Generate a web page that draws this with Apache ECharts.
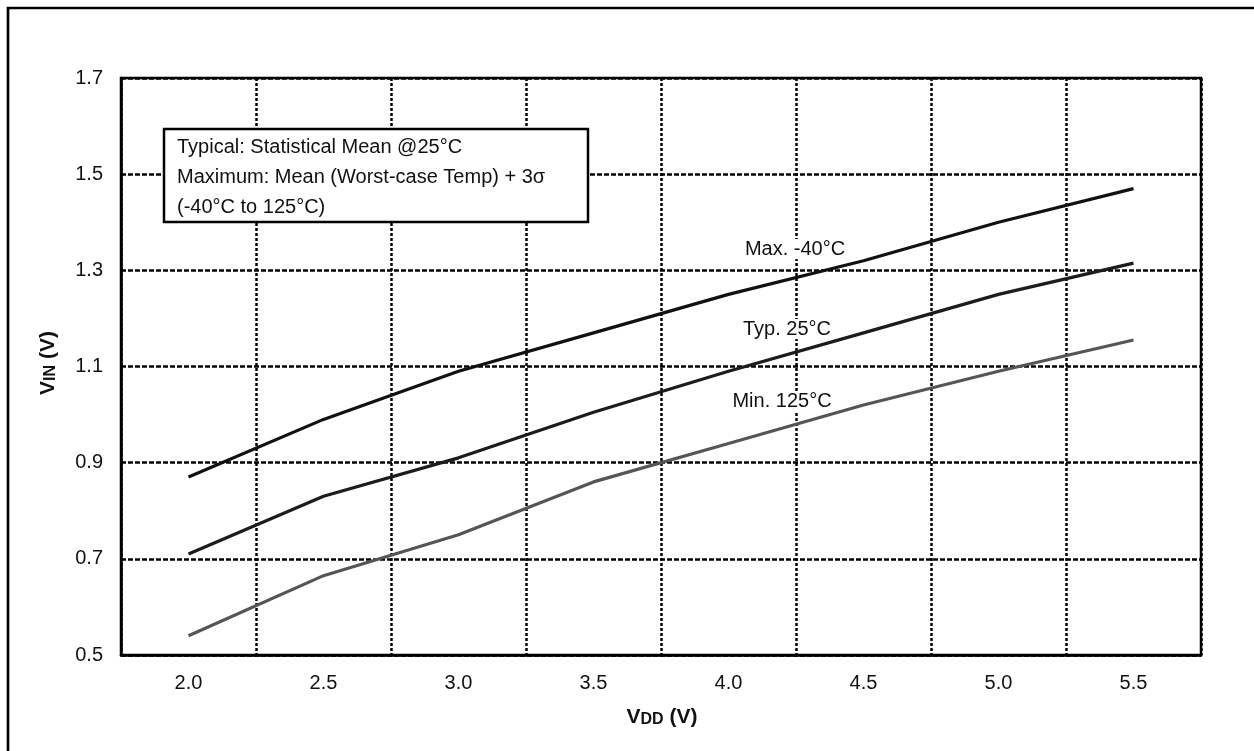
<!DOCTYPE html>
<html>
<head>
<meta charset="utf-8">
<script src="https://cdn.jsdelivr.net/npm/echarts@6/dist/echarts.min.js"></script>
<style>
html,body{margin:0;padding:0;background:#fff;}
#chart{width:1254px;height:751px;}
</style>
</head>
<body>
<div id="chart"></div>
<script>
var categories = ['2.0','2.5','3.0','3.5','4.0','4.5','5.0','5.5'];
var maxValues = [0.87, 0.99, 1.09, 1.17, 1.25, 1.32, 1.40, 1.47];
var typValues = [0.71, 0.83, 0.91, 1.005, 1.09, 1.17, 1.25, 1.315];
var minValues = [0.54, 0.665, 0.75, 0.86, 0.94, 1.02, 1.09, 1.155];
var seriesNames = ['Max. -40°C', 'Typ. 25°C', 'Min. 125°C'];
var noteLines = ['Typical: Statistical Mean @25°C', 'Maximum: Mean (Worst-case Temp) + 3σ', '(-40°C to 125°C)'];

var FONT = '"Liberation Sans", Arial, Helvetica, sans-serif';
var chart = echarts.init(document.getElementById('chart'), null, {renderer: 'canvas'});

function lineSeries(name, data, color) {
  return {
    name: name, type: 'line', data: data, symbol: 'none',
    lineStyle: {color: color, width: 3.2}, z: 5
  };
}
function seriesLabel(text, x, y) {
  return {type: 'text', z: 51, style: {x: x, y: y, text: text, font: '20px ' + FONT, fill: '#111',
    textAlign: 'center', textVerticalAlign: 'middle', backgroundColor: '#fff', padding: [0, 1]}};
}

chart.setOption({
  animation: false,
  backgroundColor: '#fff',
  grid: {left: 121, right: 53, top: 78, bottom: 96, show: true, borderColor: '#000', borderWidth: 2.5, backgroundColor: 'transparent', z: 10},
  xAxis: {
    type: 'category', data: categories, boundaryGap: true,
    axisLine: {show: true, lineStyle: {color: '#000', width: 2.5}},
    axisTick: {show: false},
    axisLabel: {color: '#111', fontSize: 20, fontFamily: FONT, margin: 18, interval: 0},
    splitLine: {show: true, interval: 0, lineStyle: {color: '#000', width: 2.5, type: [3, 2]}}
  },
  yAxis: {
    type: 'value', min: 0.5, max: 1.7, interval: 0.2,
    axisLine: {show: true, lineStyle: {color: '#000', width: 2.5}},
    axisTick: {show: false},
    axisLabel: {color: '#111', fontSize: 20, fontFamily: FONT, margin: 18, formatter: function (v) { return v.toFixed(1); }},
    splitLine: {show: true, lineStyle: {color: '#000', width: 2.5, type: [5, 2]}}
  },
  series: [
    lineSeries(seriesNames[0], maxValues, '#111'),
    lineSeries(seriesNames[1], typValues, '#1c1c1c'),
    lineSeries(seriesNames[2], minValues, '#555')
  ],
  graphic: [
    {type: 'rect', silent: true, z: 0, shape: {x: 8, y: 8, width: 1270, height: 770},
     style: {fill: 'none', stroke: '#000', lineWidth: 2.7}},
    {type: 'rect', z: 50, shape: {x: 164, y: 129, width: 424, height: 93},
     style: {fill: '#fff', stroke: '#000', lineWidth: 2.5}},
    {type: 'text', z: 51, style: {x: 177, y: 132, text: noteLines.join('\n'), font: '20px ' + FONT, fill: '#111', lineHeight: 30}},
    seriesLabel(seriesNames[0], 795, 249),
    seriesLabel(seriesNames[1], 787, 329),
    seriesLabel(seriesNames[2], 782, 401),
    {type: 'text', z: 51, x: 662, y: 717, style: {
      text: '{a|V}{b|DD}{a| (V)}', textAlign: 'center', textVerticalAlign: 'middle',
      rich: {a: {fontSize: 21, fontWeight: 'bold', fontFamily: FONT, fill: '#111', verticalAlign: 'bottom', lineHeight: 22},
             b: {fontSize: 16, fontWeight: 'bold', fontFamily: FONT, fill: '#111', verticalAlign: 'bottom', lineHeight: 19}}
    }},
    {type: 'text', z: 51, x: 48, y: 363, rotation: Math.PI / 2, style: {
      text: '{a|V}{b|IN}{a| (V)}', textAlign: 'center', textVerticalAlign: 'middle',
      rich: {a: {fontSize: 21, fontWeight: 'bold', fontFamily: FONT, fill: '#111', verticalAlign: 'bottom', lineHeight: 22},
             b: {fontSize: 16, fontWeight: 'bold', fontFamily: FONT, fill: '#111', verticalAlign: 'bottom', lineHeight: 19}}
    }}
  ]
});
</script>
</body>
</html>
